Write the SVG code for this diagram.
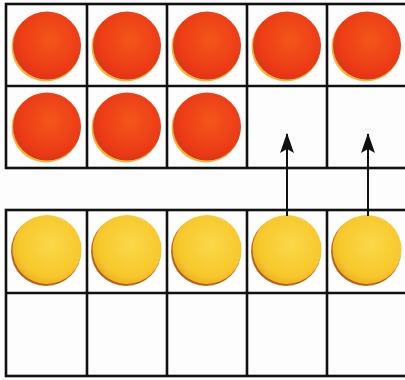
<svg xmlns="http://www.w3.org/2000/svg" width="405" height="380" viewBox="0 0 405 380">
<defs>
<radialGradient id="red" cx="0.55" cy="0.42" r="0.6">
<stop offset="0" stop-color="#f4561a"/>
<stop offset="0.75" stop-color="#ec3c16"/>
<stop offset="1" stop-color="#dc3318"/>
</radialGradient>
<radialGradient id="yel" cx="0.55" cy="0.42" r="0.6">
<stop offset="0" stop-color="#fbd84a"/>
<stop offset="0.8" stop-color="#f6c72a"/>
<stop offset="1" stop-color="#eab020"/>
</radialGradient>
<marker id="ah" viewBox="0 0 20 14" refX="19" refY="7" markerWidth="20" markerHeight="14" markerUnits="userSpaceOnUse" orient="auto">
<path d="M20 7 L0 0 L4 7 L0 14 Z" fill="#111"/>
</marker>
</defs>
<style>
.grid{fill:none;stroke:#111;stroke-width:2.6}
.rim-r{fill:#f2b33a}
.rim-y{fill:#b8641c}
.ball-r{fill:url(#red)}
.ball-y{fill:url(#yel)}
.conn{stroke:#111;stroke-width:2;fill:none}
</style>
<rect width="405" height="380" fill="#fdfdfd"/>
<g id="top-frame">
<rect class="grid" x="6" y="4" width="401" height="164"/>
<line class="grid" x1="6" y1="86" x2="407" y2="86"/>
<line class="grid" x1="87" y1="4" x2="87" y2="168"/>
<line class="grid" x1="167" y1="4" x2="167" y2="168"/>
<line class="grid" x1="247" y1="4" x2="247" y2="168"/>
<line class="grid" x1="327" y1="4" x2="327" y2="168"/>
</g>
<g id="bottom-frame">
<rect class="grid" x="6" y="210" width="401" height="166"/>
<line class="grid" x1="6" y1="293" x2="407" y2="293"/>
<line class="grid" x1="87" y1="210" x2="87" y2="376"/>
<line class="grid" x1="167" y1="210" x2="167" y2="376"/>
<line class="grid" x1="247" y1="210" x2="247" y2="376"/>
<line class="grid" x1="327" y1="210" x2="327" y2="376"/>
</g>
<g id="red-balls">
<g id="r1"><circle class="rim-r" cx="46" cy="47" r="34.5"/><circle class="ball-r" cx="47" cy="45.5" r="34"/></g>
<g id="r2"><circle class="rim-r" cx="126" cy="47" r="34.5"/><circle class="ball-r" cx="127" cy="45.5" r="34"/></g>
<g id="r3"><circle class="rim-r" cx="206" cy="47" r="34.5"/><circle class="ball-r" cx="207" cy="45.5" r="34"/></g>
<g id="r4"><circle class="rim-r" cx="286" cy="47" r="34.5"/><circle class="ball-r" cx="287" cy="45.5" r="34"/></g>
<g id="r5"><circle class="rim-r" cx="366" cy="47" r="34.5"/><circle class="ball-r" cx="367" cy="45.5" r="34"/></g>
<g id="r6"><circle class="rim-r" cx="46" cy="128" r="34.5"/><circle class="ball-r" cx="47" cy="126.5" r="34"/></g>
<g id="r7"><circle class="rim-r" cx="126" cy="128" r="34.5"/><circle class="ball-r" cx="127" cy="126.5" r="34"/></g>
<g id="r8"><circle class="rim-r" cx="206" cy="128" r="34.5"/><circle class="ball-r" cx="207" cy="126.5" r="34"/></g>
</g>
<g id="yellow-balls">
<g id="y1"><circle class="rim-y" cx="46" cy="251" r="35"/><circle class="ball-y" cx="47" cy="249.5" r="34.5"/></g>
<g id="y2"><circle class="rim-y" cx="126" cy="251" r="35"/><circle class="ball-y" cx="127" cy="249.5" r="34.5"/></g>
<g id="y3"><circle class="rim-y" cx="206" cy="251" r="35"/><circle class="ball-y" cx="207" cy="249.5" r="34.5"/></g>
<g id="y4"><circle class="rim-y" cx="286" cy="251" r="35"/><circle class="ball-y" cx="287" cy="249.5" r="34.5"/></g>
<g id="y5"><circle class="rim-y" cx="366" cy="251" r="35"/><circle class="ball-y" cx="367" cy="249.5" r="34.5"/></g>
</g>
<g id="connectors">
<line class="conn" x1="287" y1="216" x2="287" y2="134" marker-end="url(#ah)"/>
<line class="conn" x1="368" y1="216" x2="368" y2="134" marker-end="url(#ah)"/>
</g>
</svg>
